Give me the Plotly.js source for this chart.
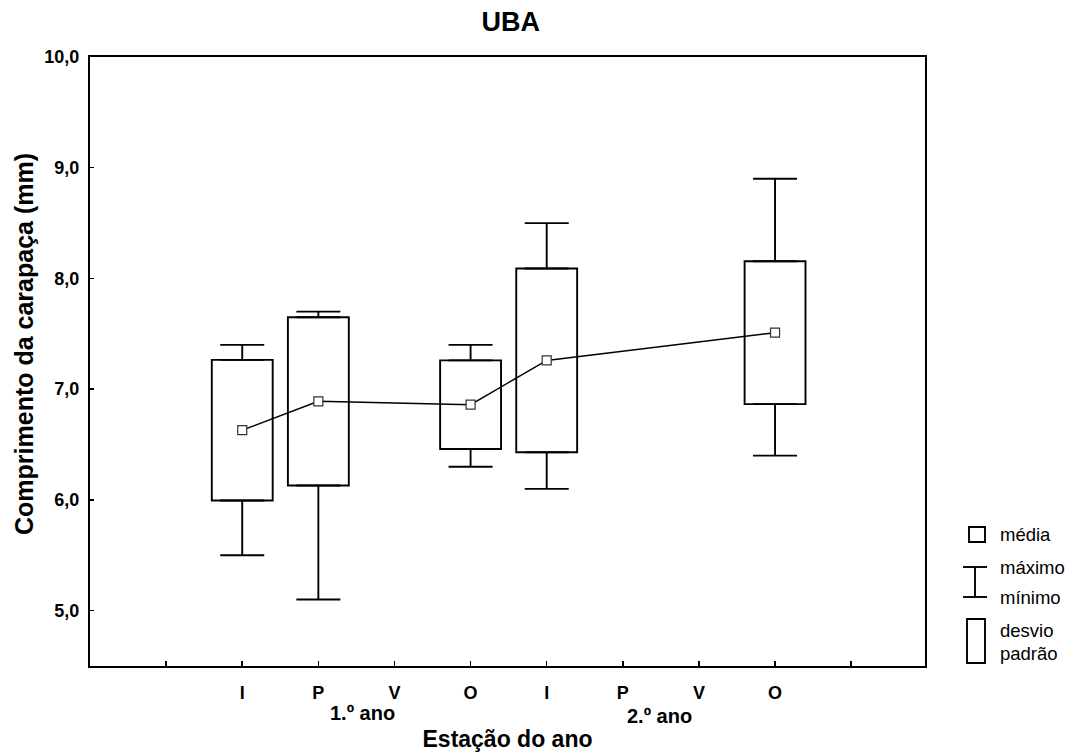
<!DOCTYPE html>
<html>
<head>
<meta charset="utf-8">
<script src="https://cdn.plot.ly/plotly-3.0.1.min.js"></script>
<style>
  html, body { margin: 0; padding: 0; background: #ffffff; }
  #chart { width: 1076px; height: 753px; }
</style>
</head>
<body>
<div id="chart"></div>
<script>
// Carapace length (mm) per season over two years, UBA site
const seasons = ['I', 'P', 'V', 'O', 'I', 'P', 'V', 'O'];
const yearLabels = ['1.º ano', '2.º ano'];
const means = [6.63, 6.89, null, 6.86, 7.26, null, null, 7.51];
const sds   = [0.635, 0.76, null, 0.40, 0.83, null, null, 0.645];
const mins  = [5.5, 5.1, null, 6.3, 6.1, null, null, 6.4];
const maxs  = [7.4, 7.7, null, 7.4, 8.5, null, null, 8.9];

const FONT = 'Liberation Sans, Arial, Helvetica, sans-serif';
const xs = seasons.map((_, i) => i);

// mean ± sd box limits
const lower = means.map((m, i) => m === null ? null : m - sds[i]);
const upper = means.map((m, i) => m === null ? null : m + sds[i]);
const span  = means.map((m, i) => m === null ? null : 2 * sds[i]);

// Box (standard deviation band)
const sdBoxes = {
  type: 'bar',
  x: xs,
  y: span,
  base: lower,
  width: 0.8,
  marker: { color: '#ffffff', line: { color: '#000000', width: 1.9 } },
  showlegend: false,
  hoverinfo: 'skip'
};

// Whisker from box top up to the maximum
const upperWhisker = {
  type: 'scatter',
  mode: 'markers',
  x: xs,
  y: upper,
  marker: { size: 1, opacity: 0 },
  error_y: {
    type: 'data', symmetric: false,
    array: maxs.map((v, i) => v === null ? null : v - upper[i]),
    arrayminus: maxs.map(v => v === null ? null : 0),
    width: 22, thickness: 1.9, color: '#000000'
  },
  showlegend: false,
  hoverinfo: 'skip'
};

// Whisker from box bottom down to the minimum
const lowerWhisker = {
  type: 'scatter',
  mode: 'markers',
  x: xs,
  y: lower,
  marker: { size: 1, opacity: 0 },
  error_y: {
    type: 'data', symmetric: false,
    array: mins.map(v => v === null ? null : 0),
    arrayminus: mins.map((v, i) => v === null ? null : lower[i] - v),
    width: 22, thickness: 1.9, color: '#000000'
  },
  showlegend: false,
  hoverinfo: 'skip'
};

// Mean values joined by a line
const meanLine = {
  type: 'scatter',
  mode: 'lines+markers',
  x: xs,
  y: means,
  connectgaps: true,
  line: { color: '#000000', width: 1.5 },
  marker: { symbol: 'square', size: 9, color: '#ffffff', line: { color: '#333333', width: 1.2 } },
  showlegend: false,
  hoverinfo: 'skip'
};

// Plot-area pixel helpers for the key drawn at the right
const PL = 90, PR = 925, PT = 57, PB = 666;
const px = v => (v - PL) / (PR - PL);
const py = v => (PB - v) / (PB - PT);

const keyLine = { color: '#000000', width: 1.9 };
const shapes = [
  { type: 'rect', xref: 'paper', yref: 'paper', x0: px(969), x1: px(985), y0: py(542), y1: py(527), line: keyLine, fillcolor: 'rgba(0,0,0,0)' },
  { type: 'line', xref: 'paper', yref: 'paper', x0: px(963), x1: px(987), y0: py(567), y1: py(567), line: keyLine },
  { type: 'line', xref: 'paper', yref: 'paper', x0: px(975), x1: px(975), y0: py(567), y1: py(597), line: keyLine },
  { type: 'line', xref: 'paper', yref: 'paper', x0: px(963), x1: px(987), y0: py(597), y1: py(597), line: keyLine },
  { type: 'rect', xref: 'paper', yref: 'paper', x0: px(967), x1: px(985), y0: py(663), y1: py(619), line: keyLine, fillcolor: 'rgba(0,0,0,0)' }
];

const keyText = (text, y) => ({
  text, xref: 'paper', yref: 'paper', x: px(998), y: py(y),
  xanchor: 'left', yanchor: 'middle', showarrow: false,
  font: { family: FONT, size: 18.5, color: '#000000' }
});

const annotations = [
  keyText('média', 534),
  keyText('máximo', 567),
  keyText('mínimo', 597),
  keyText('desvio', 630),
  keyText('padrão', 653),
  // year labels under the season ticks
  { text: yearLabels[0], xref: 'x', yref: 'paper', x: 1.58, y: py(713), xanchor: 'center', yanchor: 'middle',
    showarrow: false, font: { family: FONT, size: 20, weight: 'bold', color: '#000000' } },
  { text: yearLabels[1], xref: 'x', yref: 'paper', x: 5.48, y: py(716), xanchor: 'center', yanchor: 'middle',
    showarrow: false, font: { family: FONT, size: 20, weight: 'bold', color: '#000000' } },
  // y-axis title
  { text: 'Comprimento da carapaça (mm)', xref: 'paper', yref: 'paper', x: px(24), y: py(344),
    xanchor: 'center', yanchor: 'middle', textangle: -90, showarrow: false,
    font: { family: FONT, size: 25, weight: 'bold', color: '#000000' } }
];

const layout = {
  width: 1076,
  height: 753,
  margin: { l: PL, r: 1076 - PR, t: PT, b: 753 - PB, pad: 0 },
  paper_bgcolor: '#ffffff',
  plot_bgcolor: '#ffffff',
  separators: ',.',
  showlegend: false,
  hovermode: false,
  font: { family: FONT, color: '#000000' },
  title: {
    text: 'UBA',
    x: 0.504, xref: 'paper', xanchor: 'center',
    y: 1 - 22 / 753, yref: 'container', yanchor: 'middle',
    font: { family: FONT, size: 27, weight: 'bold', color: '#000000' }
  },
  xaxis: {
    range: [-2, 8.97],
    tickmode: 'array',
    tickvals: [-1].concat(xs, [8]),
    ticktext: [''].concat(seasons, ['']),
    ticks: 'inside', ticklen: 5, tickwidth: 1.5, tickcolor: '#000000',
    ticklabelstandoff: 9,
    tickfont: { family: FONT, size: 18, weight: 'bold', color: '#000000' },
    showgrid: false, zeroline: false,
    showline: true, linecolor: '#000000', linewidth: 2, mirror: true,
    title: {
      text: 'Estação do ano',
      standoff: 29,
      font: { family: FONT, size: 23, weight: 'bold', color: '#000000' }
    }
  },
  yaxis: {
    range: [4.5, 10],
    tick0: 5, dtick: 1,
    tickformat: '.1f',
    ticks: 'inside', ticklen: 4, tickwidth: 1.5, tickcolor: '#000000',
    ticklabelstandoff: 5,
    tickfont: { family: FONT, size: 18, weight: 'bold', color: '#000000' },
    showgrid: false, zeroline: false,
    showline: true, linecolor: '#000000', linewidth: 2, mirror: true
  },
  shapes,
  annotations
};

Plotly.newPlot('chart', [sdBoxes, upperWhisker, lowerWhisker, meanLine], layout, { staticPlot: true, displayModeBar: false });
</script>
</body>
</html>
